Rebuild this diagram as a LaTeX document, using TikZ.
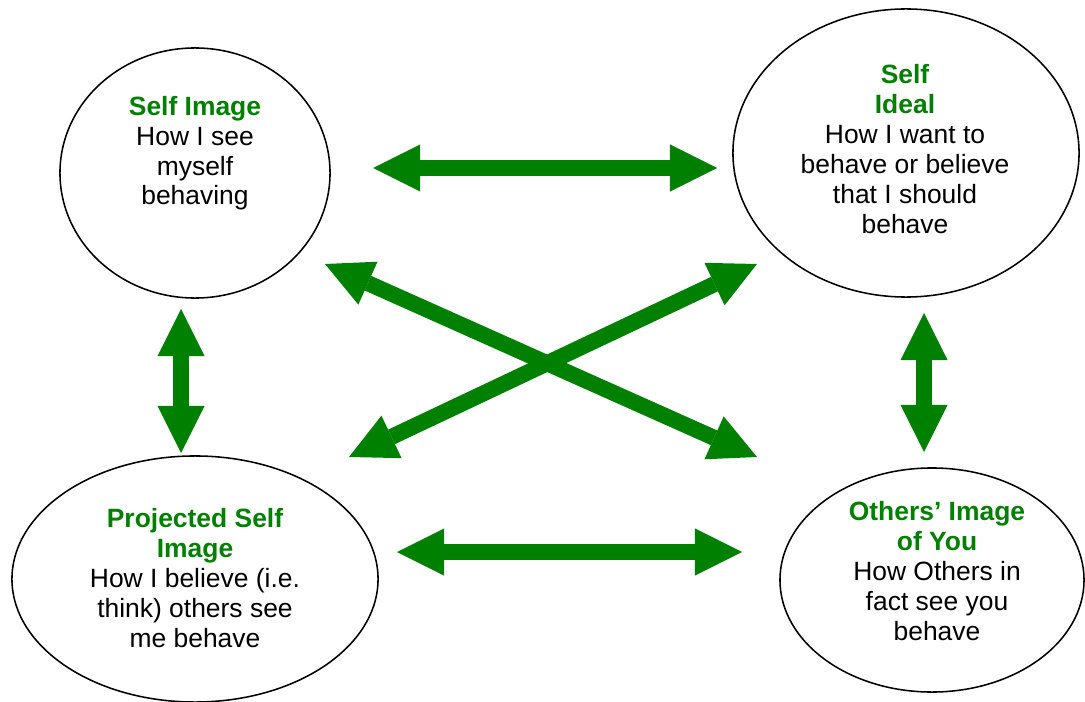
\documentclass[tikz,border=0pt]{standalone}
\usepackage{fontspec}
\setmainfont{Liberation Sans}
\usepackage{xcolor}
\usetikzlibrary{arrows.meta,shapes.geometric,positioning}
\definecolor{ringgreen}{RGB}{0,128,0}
\newcommand{\ringhead}[1]{\textcolor{ringgreen}{\bfseries #1}}
\tikzset{
  selfring/.style={draw, ellipse, line width=1.1pt, inner sep=0pt},
  ringtext/.style={align=center, anchor=base, inner sep=0pt,
                   font=\fontsize{18.8}{21.3}\selectfont},
  biarrow/.style ={ringgreen, line width=0.4cm,
                   >={Triangle[length=1.175cm, width=1.175cm, line width=0pt]}, <->},
}

\begin{document}
\begin{tikzpicture}[x=0.025cm, y=-0.025cm]
  \useasboundingbox (0,0) rectangle (1085,702);

  \node[selfring, minimum width=6.75cm, minimum height=6.25cm] (simg)   at (195,173) {};
  \node[selfring, minimum width=8.65cm, minimum height=7.2cm]  (ideal)  at (906,153) {};
  \node[selfring, minimum width=9.15cm, minimum height=6.15cm] (proj)   at (195,579) {};
  \node[selfring, minimum width=7.6cm,  minimum height=5.6cm]  (others) at (932,580) {};

  \node[ringtext] (simgtxt) at (195,205)
        {\ringhead{Self Image}\\How I see\\myself\\behaving};
  \node[ringtext] (idealtxt) at (905,233)
        {\ringhead{Self}\\\ringhead{Ideal}\\How I want to\\behave or believe\\that I should\\behave};
  \node[ringtext] (projtxt) at (195,647)
        {\ringhead{Projected Self}\\\ringhead{Image}\\How I believe (i.e.\\think) others see\\me behave};
  \node[ringtext] (otherstxt) at (937,640)
        {\ringhead{Others’ Image}\\\ringhead{of You}\\How Others in\\fact see you\\behave};

  \coordinate (topL) at (373,168);  \coordinate (topR) at (717,168);
  \coordinate (botL) at (397,552);  \coordinate (botR) at (742,552);
  \coordinate (lftT) at (181,309);  \coordinate (lftB) at (181,453);
  \coordinate (rgtT) at (924,313);  \coordinate (rgtB) at (924,452);
  \coordinate (crsA) at (325,264);  \coordinate (crsB) at (757,457);
  \coordinate (crsC) at (349,457);  \coordinate (crsD) at (757,264);

  \draw[biarrow](topL)--(topR);\draw[biarrow](botL)--(botR);
  \draw[biarrow](lftT)--(lftB);\draw[biarrow](rgtT)--(rgtB);
  \draw[biarrow](crsA)--(crsB);\draw[biarrow](crsC)--(crsD);
\end{tikzpicture}
\end{document}
